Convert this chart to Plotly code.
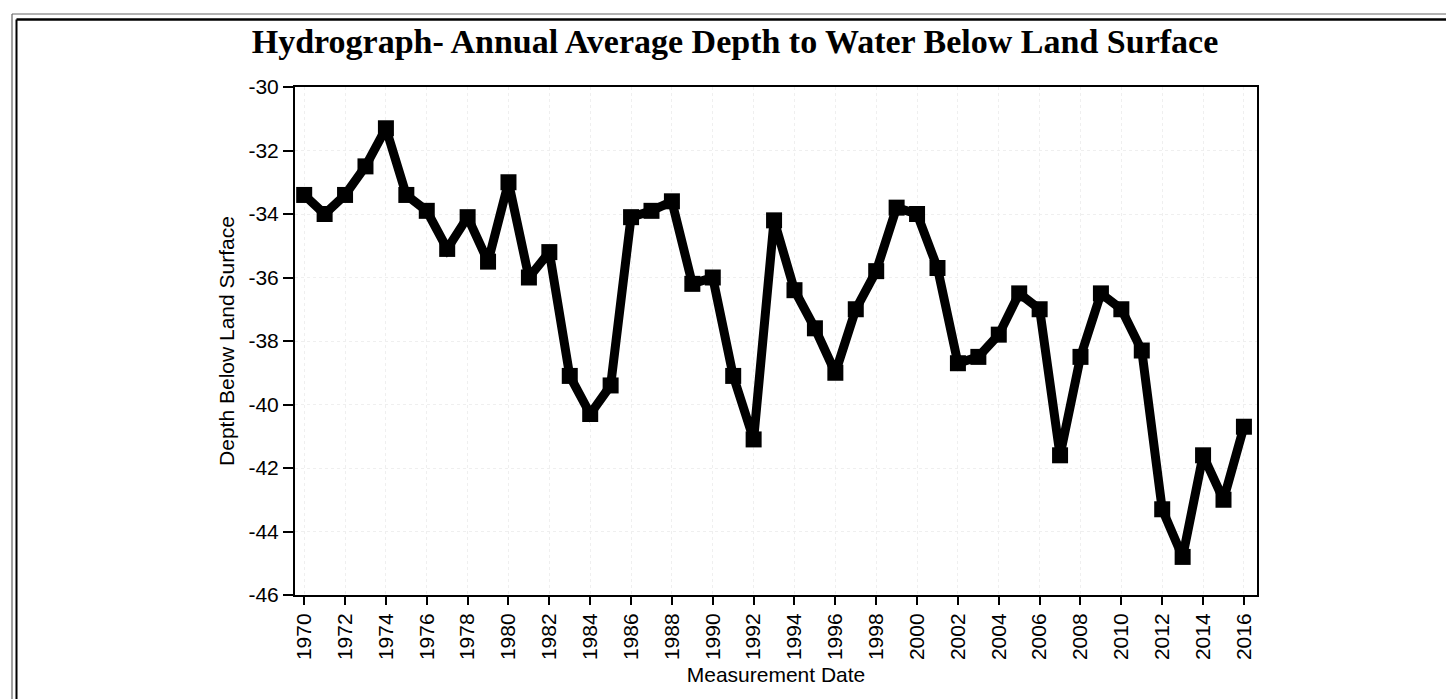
import plotly.graph_objects as go

# ---- data ----
years = list(range(1970, 2017))
depth = [-33.4, -34.0, -33.4, -32.5, -31.3, -33.4, -33.9, -35.1, -34.1, -35.5,
         -33.0, -36.0, -35.2, -39.1, -40.3, -39.4, -34.1, -33.9, -33.6, -36.2,
         -36.0, -39.1, -41.1, -34.2, -36.4, -37.6, -39.0, -37.0, -35.8, -33.8,
         -34.0, -35.7, -38.7, -38.5, -37.8, -36.5, -37.0, -41.6, -38.5, -36.5,
         -37.0, -38.3, -43.3, -44.8, -41.6, -43.0, -40.7]
x_tick_vals = list(range(1970, 2017, 2))
x_tick_text = [str(v) for v in x_tick_vals]
y_tick_vals = [-30, -32, -34, -36, -38, -40, -42, -44, -46]
y_tick_text = ["-30", "-32", "-34", "-36", "-38", "-40", "-42", "-44", "-46"]

title_text = "Hydrograph- Annual Average Depth to Water Below Land Surface"
x_title = "Measurement Date"
y_title = "Depth Below Land Surface"

# ---- layout constants (pixels) ----
W, H = 1454, 699
L, R, T, B = 287, 1454 - 1249, 79, 699 - 587
PW, PH = W - L - R, H - T - B

def px(xp):
    return (xp - L) / PW

def py(yp):
    return 1 - (yp - T) / PH

fig = go.Figure()
fig.add_trace(go.Scatter(
    x=years, y=depth, mode="lines+markers",
    line=dict(color="black", width=9),
    marker=dict(symbol="square", size=16, color="black"),
    showlegend=False, hoverinfo="x+y",
))

sans = "Arial, Liberation Sans, sans-serif"
fig.update_layout(
    width=W, height=H,
    margin=dict(l=L, r=R, t=T, b=B, pad=0),
    paper_bgcolor="white", plot_bgcolor="white",
    font=dict(family=sans, size=21, color="black"),
    title=dict(text="<b>" + title_text + "</b>", x=0.5, xref="container",
               xanchor="center", y=1 - 33 / H, yref="container", yanchor="middle",
               font=dict(family="Times New Roman, Liberation Serif, serif", size=34, color="black")),
    xaxis=dict(range=[1969.55, 2016.64], tickmode="array", tickvals=x_tick_vals,
               ticktext=x_tick_text, tickangle=-90, ticks="outside", ticklen=8,
               tickwidth=2, tickcolor="black", showline=True, linecolor="black",
               linewidth=2, mirror=True, showgrid=True, gridcolor="#efefef",
               griddash="dot", gridwidth=1, zeroline=False,
               tickfont=dict(family=sans, size=21),
               title=dict(text=x_title, standoff=8, font=dict(family=sans, size=21))),
    yaxis=dict(range=[-46, -30], tickmode="array", tickvals=y_tick_vals,
               ticktext=y_tick_text,
               ticks="outside", ticklen=10, tickwidth=2, tickcolor="black",
               showline=True, linecolor="black", linewidth=2, mirror=True,
               showgrid=True, gridcolor="#efefef", griddash="dot", gridwidth=1,
               zeroline=False, tickfont=dict(family=sans, size=21),
               title=dict(text=y_title, standoff=8, font=dict(family=sans, size=21))),
)

# double frame around the whole picture
frame = []
for (x0, x1, y0, y1, w, c) in [
    (4, 4, 6, 720, 1, "#444"), (1451, 1451, 6, 720, 1, "#444"), (4, 1451, 6, 6, 1, "#666"),
    (8.5, 8.5, 11.5, 720, 2, "black"), (1447, 1447, 11.5, 720, 2, "black"),
    (8.5, 1447, 11.5, 11.5, 2.5, "black"),
]:
    frame.append(dict(type="line", xref="paper", yref="paper",
                      x0=px(x0), x1=px(x1), y0=py(y0), y1=py(y1),
                      line=dict(color=c, width=w), layer="above"))
fig.update_layout(shapes=frame)

fig.write_html("out.html")
